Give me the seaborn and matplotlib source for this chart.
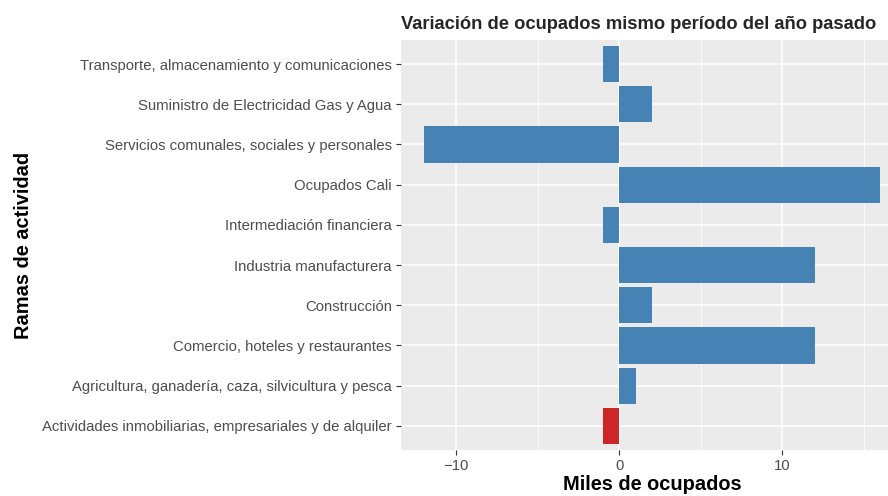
import numpy as np
import pandas as pd
import seaborn as sns
import matplotlib.pyplot as plt
from matplotlib.ticker import MultipleLocator

# ramas de actividad, de arriba hacia abajo
ramas = [
    "Transporte, almacenamiento y comunicaciones",
    "Suministro de Electricidad Gas y Agua",
    "Servicios comunales, sociales y personales",
    "Ocupados Cali",
    "Intermediación financiera",
    "Industria manufacturera",
    "Construcción",
    "Comercio, hoteles y restaurantes",
    "Agricultura, ganadería, caza, silvicultura y pesca",
    "Actividades inmobiliarias, empresariales y de alquiler",
]
variacion = [-1, 2, -12, 16, -1, 12, 2, 12, 1, -1]
grupo = ["otro"] * 9 + ["destacado"]
colores = {"otro": "#4682B4", "destacado": "#CD2626"}

df = pd.DataFrame({"rama": ramas, "var": variacion, "grupo": grupo})

sns.set_theme(style="darkgrid")
plt.rcParams["font.family"] = ["Liberation Sans", "DejaVu Sans"]

fig = plt.figure(figsize=(8.88, 4.96), dpi=100)
ax = fig.add_axes([0.4516, 0.0927, 0.5484, 0.8267])
ax.set_facecolor("#EBEBEB")

sns.barplot(data=df, x="var", y="rama", hue="grupo", palette=colores,
            orient="h", width=0.9, dodge=False, legend=False, ax=ax,
            saturation=1, linewidth=0, zorder=3)

ax.set_xlim(-13.4, 16.5)
ax.set_ylim(9.6, -0.6)
ax.xaxis.set_minor_locator(MultipleLocator(5))
ax.set_xticks([-10, 0, 10])
ax.set_xticklabels(["\u221210", "0", "10"])
ax.grid(which="major", color="white", linewidth=1.1, zorder=0)
ax.grid(which="minor", axis="x", color="white", linewidth=0.55, zorder=0)
ax.set_axisbelow(True)
for s in ax.spines.values():
    s.set_visible(False)

ax.tick_params(axis="both", which="major", length=3.5, width=0.8, color="#333333",
               labelsize=10.7, labelcolor="#4D4D4D", pad=3, bottom=True, left=True)
ax.tick_params(axis="x", which="minor", length=0)

ax.set_xlabel("Miles de ocupados", fontsize=14.4, fontweight="bold", color="black")
ax.xaxis.set_label_coords(0.515, -0.062)
ax.set_ylabel("Ramas de actividad", fontsize=14.4, fontweight="bold", color="black")
ax.yaxis.set_label_coords(-0.755, 0.5)
ax.set_title("Variación de ocupados mismo período del año pasado",
             fontsize=13.2, fontweight="bold", loc="left", pad=8)

fig.savefig("out.png", dpi=100)
